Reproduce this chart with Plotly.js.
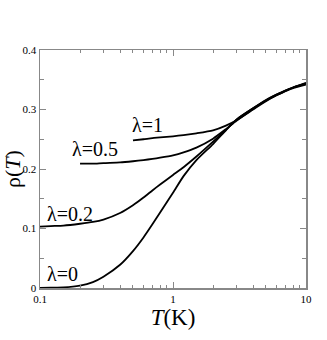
<!DOCTYPE html>
<html>
<head>
<meta charset="utf-8">
<script src="https://cdn.plot.ly/plotly-3.0.1.min.js"></script>
<style>html,body{margin:0;padding:0;background:#fff;}#chart{width:327px;height:340px;}</style>
</head>
<body>
<div id="chart"></div>
<script>
// Temperature grid (K)
var T_all = [0.1,0.12,0.15,0.2,0.25,0.3,0.4,0.5,0.6,0.7,0.8,1.0,1.2,1.5,2.0,2.5,3.0,4.0,5.0,6.0,7.0,8.0,10];
var rho_l0  = [0.000,0.0005,0.001,0.004,0.010,0.019,0.039,0.062,0.085,0.107,0.127,0.160,0.188,0.215,0.242,0.265,0.283,0.302,0.315,0.324,0.331,0.336,0.342];
var rho_l02 = [0.103,0.104,0.105,0.108,0.111,0.115,0.126,0.139,0.152,0.164,0.174,0.190,0.203,0.221,0.246,0.266,0.283,0.302,0.316,0.325,0.332,0.337,0.343];
var T_l05 = [0.2,0.25,0.3,0.4,0.5,0.6,0.7,0.8,1.0,1.2,1.5,2.0,2.5,3.0,4.0,5.0,6.0,7.0,8.0,10];
var rho_l05 = [0.209,0.209,0.210,0.211,0.213,0.215,0.217,0.219,0.223,0.228,0.236,0.251,0.267,0.281,0.301,0.315,0.325,0.332,0.337,0.344];
var T_l1 = [0.5,0.6,0.7,0.8,1.0,1.2,1.5,2.0,2.5,3.0,4.0,5.0,6.0,7.0,8.0,10];
var rho_l1 = [0.248,0.250,0.252,0.253,0.255,0.257,0.260,0.265,0.273,0.282,0.300,0.314,0.324,0.331,0.337,0.345];
var seriesLabels = ['\u03bb=0','\u03bb=0.2','\u03bb=0.5','\u03bb=1'];
var xTickVals = [0.1,1,10];
var xTickText = ['0.1','1','10'];
var xMinor = [0.2,0.3,0.4,0.5,0.6,0.7,0.8,0.9,2,3,4,5,6,7,8,9];
var yTickVals = [0,0.1,0.2,0.3,0.4];
var yTickText = ['0','0.1','0.2','0.3','0.4'];
var yMinor = [0.05,0.15,0.25,0.35];

var line = {color:'#000', width:1.8, shape:'spline', smoothing:0.6};
var data = [
  {x:T_all, y:rho_l0, mode:'lines', line:line, name:seriesLabels[0]},
  {x:T_all, y:rho_l02, mode:'lines', line:line, name:seriesLabels[1]},
  {x:T_l05, y:rho_l05, mode:'lines', line:line, name:seriesLabels[2]},
  {x:T_l1, y:rho_l1, mode:'lines', line:line, name:seriesLabels[3]}
];
var serif = '"Liberation Serif", serif';
var axisCommon = {
  showgrid:false, zeroline:false, showline:true, linecolor:'#888', linewidth:1.5,
  mirror:'ticks', ticks:'inside', ticklen:6, tickcolor:'#888', tickwidth:1,
  tickfont:{family:serif, size:11, color:'#000'}
};
var lblFont = {family:serif, size:20, color:'#000'};
var layout = {
  width:327, height:340, showlegend:false,
  paper_bgcolor:'#fff', plot_bgcolor:'#fff',
  margin:{l:40, r:21, t:50, b:52},
  xaxis: Object.assign({}, axisCommon, {
    type:'log', range:[-1,1], tickvals:xTickVals, ticktext:xTickText,
    minor:{tickvals:xMinor, ticks:'inside', ticklen:3, tickcolor:'#888'},
    title:{text:'<i>T</i>(K)', font:{family:serif, size:23, color:'#000'}, standoff:2}
  }),
  yaxis: Object.assign({}, axisCommon, {
    range:[0,0.4], tickvals:yTickVals, ticktext:yTickText,
    minor:{tickvals:yMinor, ticks:'inside', ticklen:4, tickcolor:'#888'},
    title:{text:'\u03c1(<i>T</i>)', font:{family:serif, size:22, color:'#000'}, standoff:4}
  }),
  annotations: [
    {x:-0.962, y:0.0236, xref:'x', yref:'y', xanchor:'left', text:seriesLabels[0], showarrow:false, font:lblFont},
    {x:-0.962, y:0.1246, xref:'x', yref:'y', xanchor:'left', text:seriesLabels[1], showarrow:false, font:lblFont},
    {x:-0.774, y:0.234, xref:'x', yref:'y', xanchor:'left', text:seriesLabels[2], showarrow:false, font:lblFont},
    {x:-0.323, y:0.2745, xref:'x', yref:'y', xanchor:'left', text:seriesLabels[3], showarrow:false, font:lblFont}
  ]
};
Plotly.newPlot('chart', data, layout, {staticPlot:true, displayModeBar:false});
</script>
</body>
</html>
